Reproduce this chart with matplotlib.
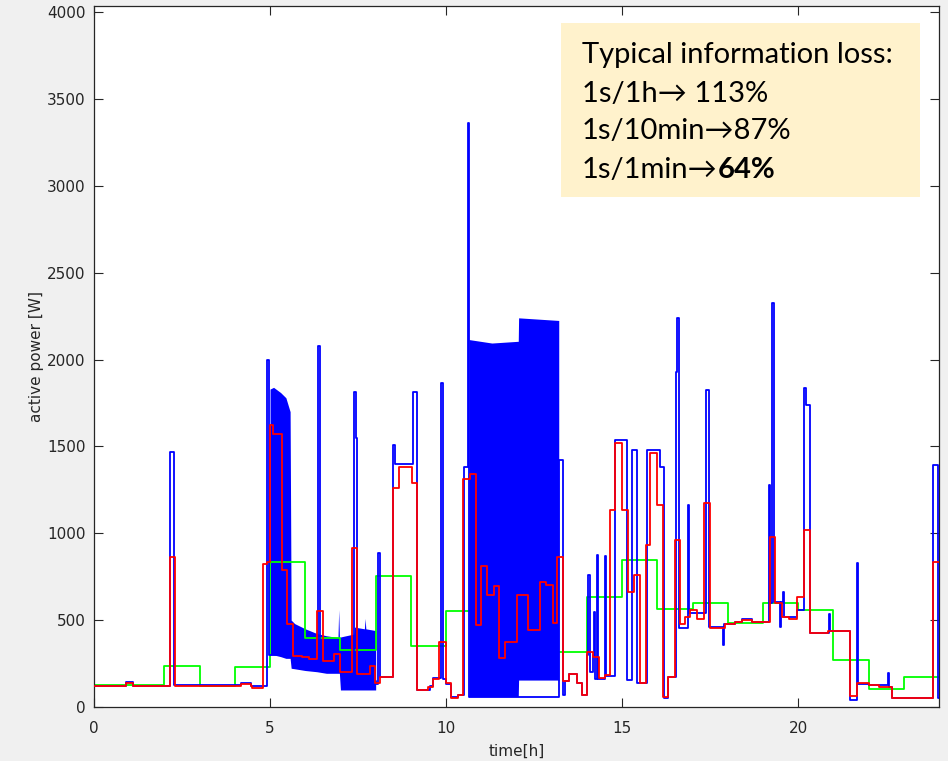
import matplotlib
matplotlib.use("Agg")
import matplotlib.pyplot as plt
from matplotlib.patches import Rectangle

# 1 min averages (red): start time [h] -> active power [W]
red_t = [0.0, 0.9, 1.1, 2.16, 2.30, 4.17, 4.45, 4.50, 4.81, 4.92, 5.00, 5.09, 5.33, 5.47,
         5.64, 5.9, 6.1, 6.33, 6.50, 6.83, 6.99, 7.32, 7.48, 7.84, 7.98, 8.11, 8.50, 8.67,
         9.03, 9.17, 9.50, 9.64, 9.81, 10.00, 10.13, 10.35, 10.49, 10.68, 10.84, 10.99,
         11.16, 11.35, 11.50, 11.68, 12.01, 12.34, 12.67, 12.84, 13.03, 13.16, 13.33, 13.48,
         13.71, 13.86, 14.00, 14.16, 14.33, 14.52, 14.66, 14.80, 14.99, 15.18, 15.34, 15.51,
         15.68, 15.80, 15.99, 16.15, 16.30, 16.51, 16.65, 16.79, 16.93, 17.14, 17.33, 17.50,
         17.93, 18.2, 18.4, 18.7, 19.19, 19.35, 19.54, 19.75, 19.98, 20.17, 20.34, 20.86,
         21.48, 21.67, 22.0, 22.3, 22.66, 23.84]
red_w = [120, 140, 120, 865, 118, 135, 118, 107, 823, 836, 1623, 1571, 788, 478,
         293, 285, 275, 554, 264, 306, 200, 917, 190, 236, 136, 175, 1258, 1383,
         1288, 98, 117, 159, 376, 136, 50, 69, 1310, 1339, 472, 811,
         645, 698, 282, 376, 645, 443, 717, 702, 485, 865, 150, 190,
         136, 69, 314, 289, 169, 184, 1134, 1517, 1134, 664, 760, 136,
         932, 1460, 1163, 59, 175, 961, 478, 518, 556, 508, 1172, 453,
         478, 490, 500, 490, 980, 600, 518, 505, 636, 1019, 424, 440,
         63, 136, 125, 117, 50, 836]

# 1 h averages (green)
green_t = list(range(24))
green_w = [125, 125, 235, 120, 232, 836, 400, 328, 756, 353, 554, 560,
           600, 314, 635, 846, 562, 597, 485, 600, 559, 271, 102, 175]

# 1 s data (blue), level changes and spikes outside the dense parts
blue_t = [0.0, 0.9, 1.1, 2.16, 2.27, 4.17, 4.45, 4.90, 4.96, 6.37, 6.41, 7.39, 7.45, 7.47,
          8.0, 8.08, 8.12, 8.50, 8.55, 9.07, 9.17, 9.55, 9.62, 9.86, 9.90, 10.0, 10.13,
          10.35, 10.50, 10.61, 10.65, 13.20, 13.33, 13.38, 13.48, 13.71, 13.86, 14.0, 14.03,
          14.09, 14.16, 14.19, 14.22, 14.28, 14.32, 14.50, 14.54, 14.80, 15.13, 15.27, 15.43,
          15.72, 16.08, 16.18, 16.30, 16.53, 16.57, 16.61, 16.87, 16.89, 17.38, 17.47, 17.86,
          17.89, 18.2, 18.4, 18.7, 19.17, 19.20, 19.25, 19.31, 19.49, 19.52, 19.57, 19.60,
          19.98, 20.17, 20.22, 20.35, 20.88, 20.90, 21.48, 21.67, 21.70, 22.0, 22.56, 22.58,
          22.66, 23.84, 23.97]
blue_w = [122, 145, 122, 1470, 125, 140, 118, 2000, 300, 2077, 300, 1815, 1550, 150,
          130, 884, 175, 1508, 1400, 1814, 100, 120, 165, 1863, 160, 130, 55,
          70, 1383, 3360, 60, 1420, 70, 150, 190, 136, 69, 300, 760,
          200, 300, 549, 160, 875, 160, 870, 180, 1537, 155, 1479, 136,
          1479, 1383, 50, 175, 1930, 2238, 453, 1160, 543, 1824, 461, 357,
          478, 490, 505, 490, 1278, 600, 2327, 606, 461, 606, 664, 520,
          556, 1836, 1738, 424, 537, 440, 40, 827, 130, 125, 193, 115,
          50, 1393, 50]

# dense oscillating parts of the 1 s data: lower / upper envelope
band1_t = [5.00, 5.10, 5.30, 5.45, 5.57, 5.60, 5.70, 6.00, 6.33, 6.60, 6.93, 6.95, 6.97,
           7.00, 7.38, 7.40, 7.68, 7.70, 7.72, 8.0]
band1_hi = [1830, 1840, 1810, 1780, 1700, 500, 480, 450, 423, 410, 400, 560, 400,
            403, 420, 460, 450, 510, 450, 440]
band1_lo = [300, 300, 290, 280, 280, 223, 220, 210, 203, 194, 194, 194, 194,
            98, 98, 98, 98, 98, 98, 98]
band2_t = [10.65, 11.3, 12.05, 12.06, 13.2]
band2_hi = [2115, 2095, 2105, 2240, 2225]
band2_lo = [60, 60, 60, 155, 155]

fig = plt.figure(figsize=(9.48, 7.61), dpi=100, facecolor="#f0f0f0")
ax = fig.add_axes([94 / 948, 54 / 761, 845 / 948, 701 / 761])

ax.fill_between(band1_t, band1_lo, band1_hi, color="#0000ff", lw=0, zorder=1)
ax.step(green_t + [24], green_w + [green_w[-1]], where="post", color="#00ff00", lw=1.3, zorder=2)
ax.step(blue_t + [24], blue_w + [blue_w[-1]], where="post", color="#0000ff", lw=1.3, zorder=3)
ax.fill_between(band2_t, band2_lo, band2_hi, color="#0000ff", lw=0, zorder=3)
ax.step(red_t + [24], red_w + [red_w[-1]], where="post", color="#ff0000", lw=1.3, zorder=4)

ax.set_xlim(0, 24)
ax.set_ylim(0, 4035)
ax.set_xticks([0, 5, 10, 15, 20])
ax.set_yticks(range(0, 4001, 500))
ax.tick_params(direction="in", length=6.5, width=0.8, top=True, right=True,
               labelsize=11, colors="#262626", pad=6)
ax.tick_params(axis="x", pad=10)
for s in ax.spines.values():
    s.set_color("#262626")
    s.set_linewidth(0.9)
ax.set_xlabel("time[h]", fontsize=11, color="#262626", labelpad=6)
ax.set_ylabel("active power [W]", fontsize=11, color="#262626", labelpad=2)

# annotation box
fig.patches.append(Rectangle((561 / 948, 1 - 197 / 761), 359 / 948, 174 / 761,
                             transform=fig.transFigure, facecolor="#fff2cc",
                             edgecolor="none", zorder=5))
fam = ["Lato", "DejaVu Sans"]
fs = 21
x0 = 582 / 948
lines = ["Typical information loss:", "1s/1h\u2192 113%", "1s/10min\u219287%"]
bases = [63, 102, 139]
for txt, b in zip(lines, bases):
    fig.text(x0, 1 - b / 761, txt, family=fam, fontsize=fs, va="baseline", zorder=6)
t4 = fig.text(x0, 1 - 178 / 761, "1s/1min\u2192", family=fam, fontsize=fs, va="baseline", zorder=6)
r = fig.canvas.get_renderer()
bb = t4.get_window_extent(renderer=r)
fig.text(bb.x1 / fig.bbox.width, 1 - 178 / 761, "64%", family=fam, fontsize=fs,
         fontweight="bold", va="baseline", zorder=6)

fig.savefig("out.png", dpi=100, facecolor=fig.get_facecolor())
